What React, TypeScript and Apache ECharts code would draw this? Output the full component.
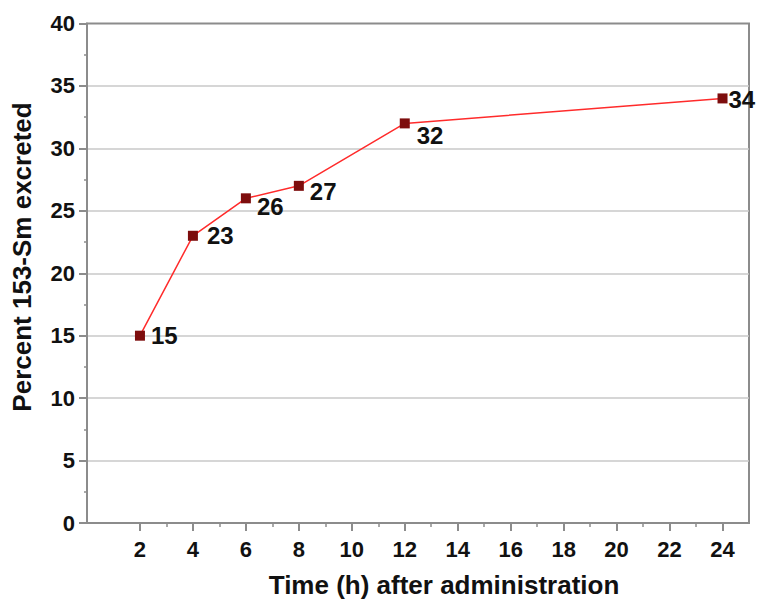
import React, { useEffect, useRef } from "react";
import * as echarts from "echarts";

const hours = [2, 4, 6, 8, 12, 24];
const percentExcreted = [15, 23, 26, 27, 32, 34];
const xMajorTicks = [2, 4, 6, 8, 10, 12, 14, 16, 18, 20, 22, 24];
const xMinorTicks = [3, 5, 7, 9, 11, 13, 15, 17, 19, 21, 23];
const xTitle = "Time (h) after administration";
const yTitle = "Percent 153-Sm excreted";

// label placement per point: [distance from marker, vertical offset]
const labelPlacement = [
  [6, 0],
  [9, 0],
  [6, 8],
  [6, 6],
  [7, 12],
  [1, 1],
];

const FONT = "'Liberation Sans', Arial, Helvetica, sans-serif";

export default function App() {
  const ref = useRef<HTMLDivElement>(null);
  useEffect(() => {
    if (!ref.current) return;
    const chart = echarts.init(ref.current, undefined, { renderer: "svg" });
    const data = hours.map((h, i) => ({
      value: [h, percentExcreted[i]],
      label: {
        distance: labelPlacement[i][0],
        offset: [0, labelPlacement[i][1]],
      },
    }));
    chart.setOption({
      animation: false,
      backgroundColor: "#fff",
      grid: {
        left: 87,
        right: 9,
        top: 23.5,
        bottom: 77,
        show: true,
        borderColor: "#8c8c8c",
        borderWidth: 2,
        backgroundColor: "transparent",
      },
      xAxis: [
        {
          type: "value",
          min: 0,
          max: 25,
          axisLine: { show: true, lineStyle: { color: "#8c8c8c", width: 2 } },
          axisTick: {
            show: true,
            customValues: xMajorTicks,
            length: 8,
            lineStyle: { color: "#8c8c8c", width: 2 },
          },
          axisLabel: {
            customValues: xMajorTicks,
            margin: 15,
            fontSize: 22,
            fontWeight: "bold",
            fontFamily: FONT,
            color: "#111",
          },
          splitLine: { show: false },
        },
        {
          type: "value",
          min: 0,
          max: 25,
          position: "bottom",
          axisLine: { show: false },
          axisTick: {
            show: true,
            customValues: xMinorTicks,
            length: 4,
            lineStyle: { color: "#8c8c8c", width: 1.5 },
          },
          axisLabel: { show: false },
          splitLine: { show: false },
        },
      ],
      yAxis: {
        type: "value",
        min: 0,
        max: 40,
        interval: 5,
        axisLine: { show: true, lineStyle: { color: "#8c8c8c", width: 2 } },
        axisTick: { show: true, length: 8, lineStyle: { color: "#8c8c8c", width: 2 } },
        minorTick: { show: true, splitNumber: 2, length: 3, lineStyle: { color: "#8c8c8c", width: 1.5 } },
        axisLabel: {
          margin: 12,
          fontSize: 22,
          fontWeight: "bold",
          fontFamily: FONT,
          color: "#111",
        },
        splitLine: {
          show: true,
          showMaxLine: false,
          showMinLine: false,
          lineStyle: { color: "#c8c8c8", width: 1.5 },
        },
      },
      graphic: [
        {
          type: "text",
          x: 444,
          y: 585,
          style: {
            text: xTitle,
            align: "center",
            verticalAlign: "middle",
            font: `bold 26px ${FONT}`,
            fill: "#111",
          },
        },
        {
          type: "text",
          x: 22,
          y: 257,
          rotation: Math.PI / 2,
          style: {
            text: yTitle,
            align: "center",
            verticalAlign: "middle",
            font: `bold 26px ${FONT}`,
            fill: "#111",
          },
        },
      ],
      series: [
        {
          type: "line",
          data,
          symbol: "rect",
          symbolSize: 10,
          itemStyle: { color: "#7d0d0d" },
          lineStyle: { color: "#ff2b2b", width: 1.5 },
          label: {
            show: true,
            position: "right",
            fontSize: 24,
            fontWeight: "bold",
            fontFamily: FONT,
            color: "#111",
          },
        },
      ],
    });
    return () => chart.dispose();
  }, []);
  return <div ref={ref} style={{ width: 758, height: 600, position: "absolute", left: 0, top: 0 }} />;
}
